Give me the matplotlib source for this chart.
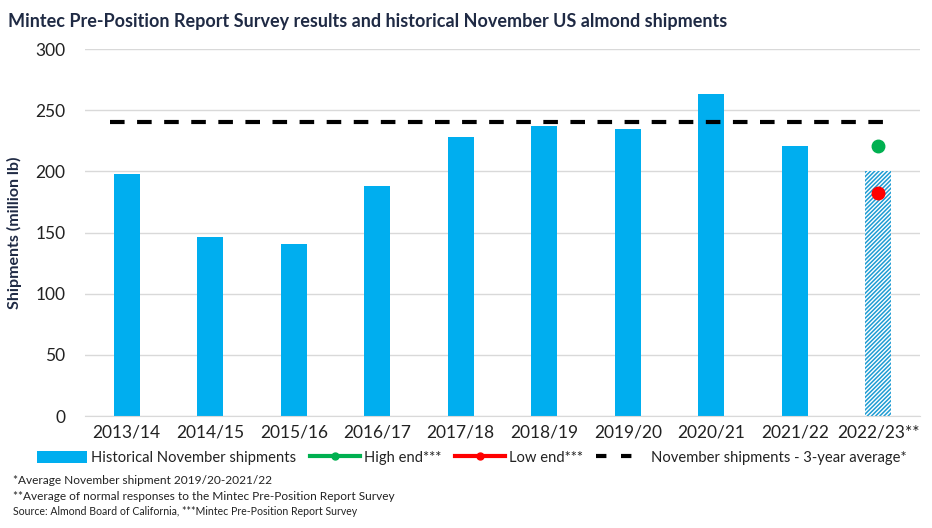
import numpy as np
import matplotlib.pyplot as plt
from matplotlib.lines import Line2D
from matplotlib.patches import Patch

# Data
seasons = ['2013/14', '2014/15', '2015/16', '2016/17', '2017/18',
           '2018/19', '2019/20', '2020/21', '2021/22', '2022/23**']
shipments = [198, 146, 141, 188, 228, 237, 235, 263, 221, 200]
high_end = 221
low_end = 182
avg_3yr = 240

BLUE = '#00AEEF'
HATCH_BLUE = '#1E9CD3'

plt.rcParams['font.family'] = ['Lato', 'DejaVu Sans']
plt.rcParams['hatch.linewidth'] = 1.1

fig = plt.figure(figsize=(9.32, 5.28), dpi=100)
ax = fig.add_axes([0.0912, 0.212, 0.896, 0.695])

x = np.arange(len(seasons))
width = 0.31

# historical bars (all but the survey season)
ax.bar(x[:-1], shipments[:-1], width=width, color=BLUE, zorder=2)
# survey estimate, hatched
ax.bar(x[-1], shipments[-1], width=width, facecolor='white',
       edgecolor=HATCH_BLUE, hatch='////////', linewidth=0, zorder=2)

ax.plot(x[-1], high_end, 'o', color='#00B050', markersize=9, zorder=3)
ax.plot(x[-1], low_end, 'o', color='#FF0000', markersize=9, zorder=3)

ax.plot([x[0] - 0.2, x[-1] + 0.2], [avg_3yr, avg_3yr], color='black',
        linestyle=(0, (3.5, 3)), linewidth=3, zorder=3)

ax.set_xlim(-0.5, len(seasons) - 0.5)
ax.set_ylim(0, 300)
ax.set_yticks(range(0, 301, 50))
ax.set_xticks(x)
ax.set_xticklabels(seasons)
ax.tick_params(axis='both', length=0, labelsize=12.5, colors='#222222')
ax.tick_params(axis='y', pad=14)
ax.tick_params(axis='x', pad=6)
ax.grid(axis='y', color='#D9D9D9', linewidth=1, zorder=0)
for s in ['top', 'right', 'left']:
    ax.spines[s].set_visible(False)
ax.spines['bottom'].set_color('#D9D9D9')

ax.set_ylabel('Shipments (million lb)', fontsize=11.5, fontweight='bold',
              color='#1F2A44', labelpad=10)

fig.text(0.009, 0.975, 'Mintec Pre-Position Report Survey results and historical November US almond shipments',
         fontsize=13, fontweight='bold', color='#1F2A44', va='top', ha='left')

handles = [
    Patch(facecolor=BLUE, edgecolor='none'),
    Line2D([0], [0], color='#00B050', linewidth=3, marker='o', markersize=5),
    Line2D([0], [0], color='#FF0000', linewidth=3, marker='o', markersize=5),
    Line2D([0], [0], color='black', linewidth=3, linestyle=(0, (2.5, 3.5))),
]
labels = ['Historical November shipments', 'High end***', 'Low end***',
          'November shipments - 3-year average*']
fig.legend(handles, labels, loc='center', bbox_to_anchor=(0.506, 0.133), ncol=4,
           frameon=False, fontsize=10.6, handlelength=3.4, handleheight=0.9,
           handletextpad=0.3, columnspacing=0.9, labelcolor='#222222')

fig.text(0.014, 0.09, '*Average November shipment 2019/20-2021/22', fontsize=8.6, color='#222222', va='center')
fig.text(0.014, 0.06, '**Average of normal responses to the Mintec Pre-Position Report Survey',
         fontsize=8.6, color='#222222', va='center')
fig.text(0.014, 0.032, 'Source: Almond Board of California, ***Mintec Pre-Position Report Survey',
         fontsize=7.6, color='#222222', va='center')

fig.savefig('out.png', dpi=100)
